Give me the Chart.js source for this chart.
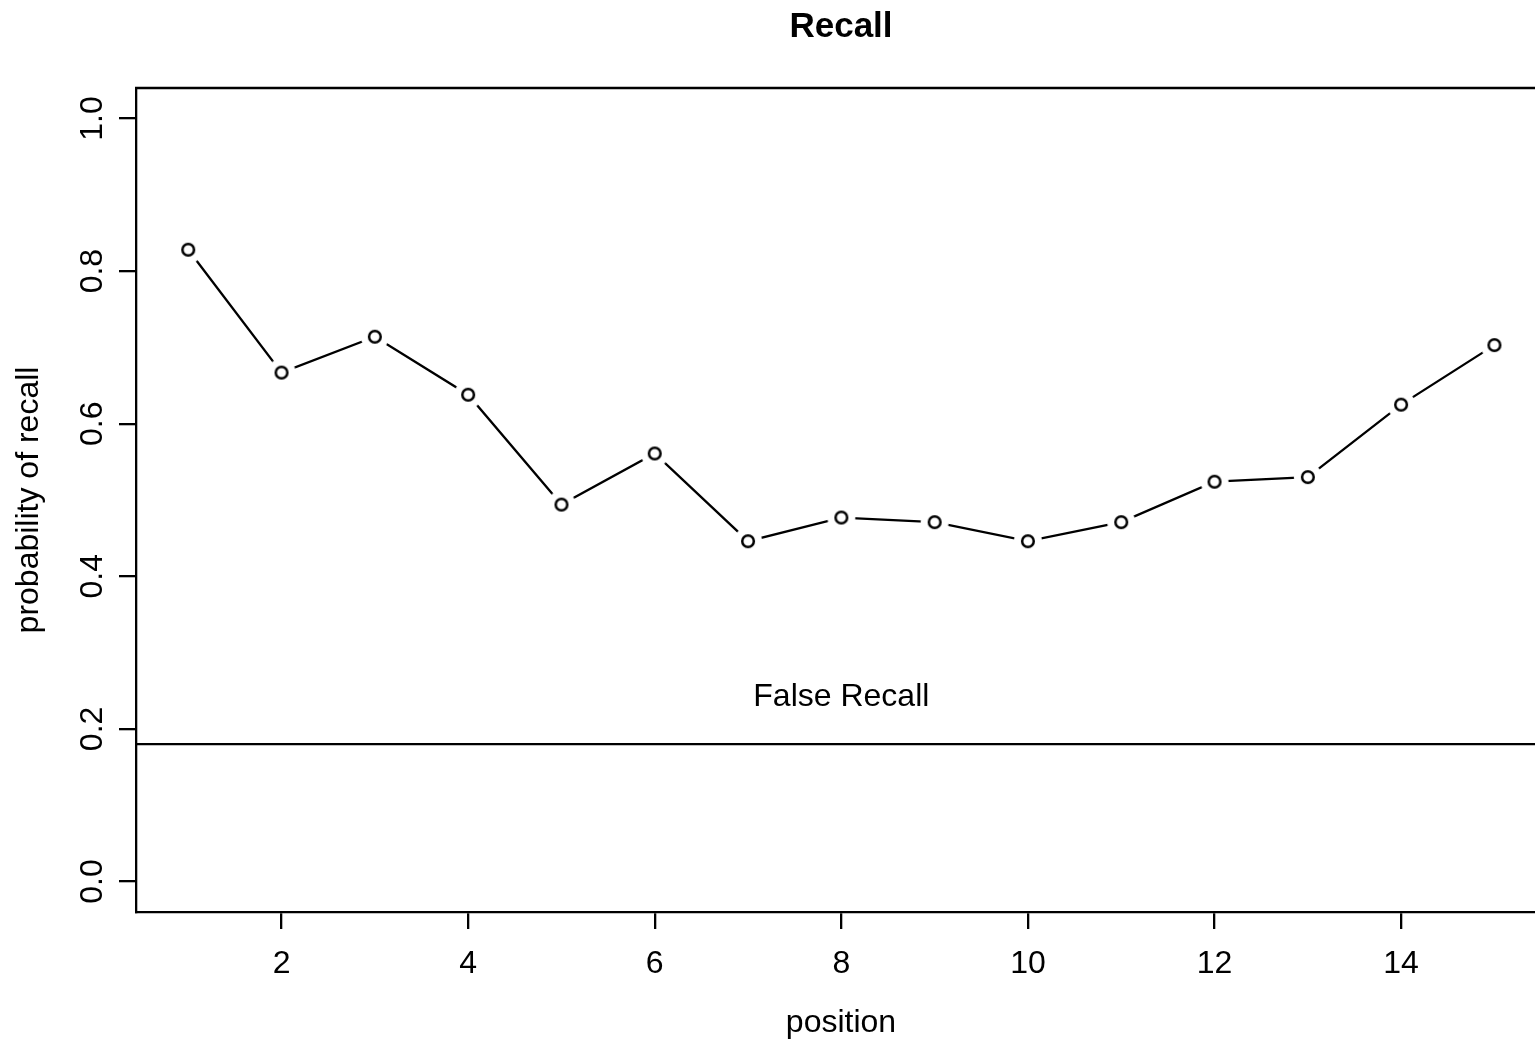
<!DOCTYPE html>
<html>
<head>
<meta charset="utf-8">
<script src="https://cdn.jsdelivr.net/npm/chart.js@4/dist/chart.umd.min.js"></script>
<style>
  html, body { margin: 0; padding: 0; background: #fff; overflow: hidden; }
  canvas { display: block; }
</style>
</head>
<body>
<canvas id="chart" width="1535" height="1042"></canvas>
<script>
// serial position data
const positions = [1, 2, 3, 4, 5, 6, 7, 8, 9, 10, 11, 12, 13, 14, 15];
const recall = [0.828, 0.667, 0.714, 0.638, 0.494, 0.561, 0.446, 0.477, 0.471, 0.446, 0.471, 0.524, 0.530, 0.625, 0.703];
const falseRecall = 0.18;
const falseRecallLabel = { x: 8, y: 0.24, text: 'False Recall' };

const xTicks = [2, 4, 6, 8, 10, 12, 14];
const yTicks = [0, 0.2, 0.4, 0.6, 0.8, 1.0];
const xRange = [0.44, 15.435];
const yRange = [-0.04, 1.04];

const FONT = '"Liberation Sans", Arial, Helvetica, sans-serif';

// open circle with a white halo, so the line stops short of the point (R type="b")
function makePointStyle() {
  const c = document.createElement('canvas');
  c.width = 32; c.height = 32;
  const g = c.getContext('2d');
  g.fillStyle = '#fff';
  g.beginPath(); g.arc(16, 16, 14, 0, Math.PI * 2); g.fill();
  g.strokeStyle = '#000';
  g.lineWidth = 2.5;
  g.beginPath(); g.arc(16, 16, 5.8, 0, Math.PI * 2); g.stroke();
  return c;
}

// text, top edge of the box
const rText = {
  id: 'rText',
  afterDraw(chart) {
    const ctx = chart.ctx;
    const { left, right, top } = chart.chartArea;
    const xs = chart.scales.x, ys = chart.scales.y;
    ctx.save();

    ctx.strokeStyle = '#000';
    ctx.lineWidth = 2.3;
    ctx.beginPath();
    ctx.moveTo(left - 1, top);
    ctx.lineTo(right, top);
    ctx.stroke();

    ctx.fillStyle = '#000';
    ctx.textAlign = 'center';
    ctx.textBaseline = 'alphabetic';

    ctx.font = 'bold 35px ' + FONT;
    ctx.fillText('Recall', 841, 37);

    ctx.font = '32px ' + FONT;
    xTicks.forEach(v => ctx.fillText(String(v), xs.getPixelForValue(v), 973));
    ctx.fillText('position', 841, 1032);

    ctx.fillText(falseRecallLabel.text, xs.getPixelForValue(falseRecallLabel.x),
      ys.getPixelForValue(falseRecallLabel.y) + 8);

    yTicks.forEach(v => {
      ctx.save();
      ctx.translate(102, ys.getPixelForValue(v));
      ctx.rotate(-Math.PI / 2);
      ctx.fillText(v.toFixed(1), 0, 0);
      ctx.restore();
    });

    ctx.save();
    ctx.translate(38, 500);
    ctx.rotate(-Math.PI / 2);
    ctx.fillText('probability of recall', 0, 0);
    ctx.restore();

    ctx.restore();
  }
};

new Chart(document.getElementById('chart'), {
  type: 'line',
  data: {
    datasets: [
      {
        data: positions.map((p, i) => ({ x: p, y: recall[i] })),
        borderColor: '#000',
        borderWidth: 2.3,
        pointStyle: makePointStyle(),
        tension: 0
      },
      {
        data: [{ x: xRange[0], y: falseRecall }, { x: xRange[1], y: falseRecall }],
        borderColor: '#000',
        borderWidth: 2.3,
        pointRadius: 0,
        tension: 0
      }
    ]
  },
  options: {
    responsive: false,
    animation: false,
    events: [],
    layout: { autoPadding: false, padding: { top: 88, right: 0, left: 0, bottom: 0 } },
    plugins: {
      legend: { display: false },
      tooltip: { enabled: false },
      title: { display: false }
    },
    scales: {
      x: {
        type: 'linear',
        min: xRange[0],
        max: xRange[1],
        afterBuildTicks: s => { s.ticks = xTicks.map(v => ({ value: v })); },
        afterFit: s => { s.height = 130; },
        ticks: { display: false },
        grid: { drawOnChartArea: false, drawTicks: true, tickLength: 17, color: '#000', lineWidth: 2.3 },
        border: { display: true, color: '#000', width: 2.3 }
      },
      y: {
        type: 'linear',
        min: yRange[0],
        max: yRange[1],
        afterBuildTicks: s => { s.ticks = yTicks.map(v => ({ value: v })); },
        afterFit: s => { s.width = 136; },
        ticks: { display: false },
        grid: { drawOnChartArea: false, drawTicks: true, tickLength: 17, color: '#000', lineWidth: 2.3 },
        border: { display: true, color: '#000', width: 2.3 }
      }
    }
  },
  plugins: [rText]
});
</script>
</body>
</html>
